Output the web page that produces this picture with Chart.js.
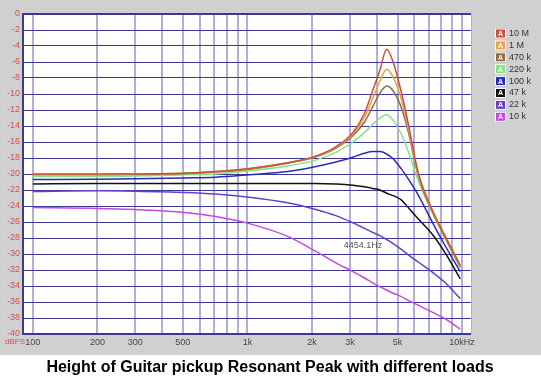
<!DOCTYPE html>
<html>
<head>
<meta charset="utf-8">
<script src="https://cdn.jsdelivr.net/npm/chart.js@4.4.1/dist/chart.umd.min.js"></script>
<style>
  html, body { margin: 0; padding: 0; background: #fff; }
  #wrap { width: 541px; height: 384px; }
</style>
</head>
<body>
<div id="wrap"><canvas id="peakChart" width="541" height="384"></canvas></div>
<script>
const freqs = [100, 200, 300, 510, 710, 1020, 1540, 2060, 2580, 3100, 3510, 3830, 4140, 4450, 4770, 5190, 5610, 6240, 7290, 8350, 9800];

// level in dBFS for each load
const load10M  = [-20.0, -20.0, -20.0, -19.9, -19.7, -19.3, -18.6, -17.8, -16.6, -14.8, -12.4, -9.6, -7.0, -4.4, -6.0, -9.6, -13.7, -19.8, -24.6, -27.8, -31.4];
const load1M   = [-20.05, -20.05, -20.0, -19.9, -19.7, -19.35, -18.6, -17.85, -16.7, -15.0, -12.9, -10.6, -8.4, -6.9, -7.9, -10.5, -14.3, -20.0, -24.7, -27.9, -31.5];
const load470k = [-20.1, -20.1, -20.05, -19.95, -19.75, -19.4, -18.65, -17.9, -16.8, -15.2, -13.5, -11.6, -9.9, -9.0, -9.6, -11.6, -14.7, -20.2, -24.8, -28.0, -31.6];
const load220k = [-20.3, -20.3, -20.25, -20.1, -20.0, -19.6, -19.0, -18.3, -17.3, -16.0, -14.8, -13.8, -13.0, -12.6, -13.3, -14.9, -17.2, -20.8, -24.9, -28.1, -31.7];
const load100k = [-20.7, -20.65, -20.6, -20.5, -20.4, -20.1, -19.7, -19.1, -18.5, -17.9, -17.4, -17.2, -17.2, -17.5, -18.1, -19.3, -20.6, -22.6, -26.1, -29.0, -32.2];
const load47k  = [-21.25, -21.2, -21.2, -21.2, -21.2, -21.2, -21.2, -21.2, -21.25, -21.4, -21.6, -21.8, -22.0, -22.4, -22.7, -23.2, -24.2, -25.6, -27.6, -29.9, -33.1];
const load22k  = [-22.2, -22.1, -22.15, -22.3, -22.5, -22.9, -23.6, -24.4, -25.2, -26.1, -26.8, -27.3, -27.7, -28.2, -28.7, -29.4, -30.1, -31.0, -32.3, -33.6, -35.6];
const load10k  = [-24.2, -24.3, -24.45, -24.8, -25.3, -26.2, -27.8, -29.6, -31.1, -32.2, -33.0, -33.6, -34.1, -34.5, -34.9, -35.3, -35.8, -36.4, -37.3, -38.1, -39.4];

const seriesNames = ['10 M', '1 M', '470 k', '220 k', '100 k', '47 k', '22 k', '10 k'];
const seriesValues = [load10M, load1M, load470k, load220k, load100k, load47k, load22k, load10k];
const seriesColors = ['#c9503a', '#e8a24e', '#8c6c42', '#86e286', '#2a2ab8', '#111111', '#6a3cd0', '#c24ae0'];

const gridTicks = [100, 200, 300, 400, 500, 600, 700, 800, 900, 1000, 2000, 3000, 4000, 5000, 6000, 7000, 8000, 9000, 10000];
const tickLabels = {100: '100', 200: '200', 300: '300', 500: '500', 1000: '1k', 2000: '2k', 3000: '3k', 5000: '5k', 10000: '10kHz'};
const peakLabel = '4454.1Hz';
const titleText = 'Height of Guitar pickup Resonant Peak with different loads';

const datasets = seriesNames.map((name, i) => ({
    label: name,
    data: freqs.map((f, j) => ({ x: f, y: seriesValues[i][j] })),
    borderColor: seriesColors[i],
    backgroundColor: seriesColors[i],
    borderWidth: 1.5,
    pointRadius: 0,
    cubicInterpolationMode: 'monotone',
    fill: false
}));

// gray panel behind the plot, white strip under it for the caption
const panelPlugin = {
    id: 'panel',
    beforeDraw(chart) {
        const c = chart.ctx;
        c.save();
        c.fillStyle = '#ffffff';
        c.fillRect(0, 0, chart.width, chart.height);
        c.fillStyle = '#d0d0d0';
        c.fillRect(0, 0, chart.width, 355);
        const a = chart.chartArea;
        c.fillStyle = '#ffffff';
        c.fillRect(a.left, a.top, a.right - a.left, a.bottom - a.top);
        c.restore();
    },
    beforeDatasetsDraw(chart) {
        const c = chart.ctx;
        const a = chart.chartArea;
        c.save();
        c.strokeStyle = '#b0b0d0';
        c.lineWidth = 1;
        c.beginPath();
        c.moveTo(a.right + 0.5, a.top);
        c.lineTo(a.right + 0.5, a.bottom);
        c.stroke();
        c.strokeStyle = '#3a3a96';
        c.lineWidth = 2;
        c.beginPath();
        c.moveTo(a.right, a.top);
        c.lineTo(a.left, a.top);
        c.lineTo(a.left, a.bottom);
        c.lineTo(a.right, a.bottom);
        c.stroke();
        c.restore();
    },
    afterDraw(chart) {
        const c = chart.ctx;
        c.save();
        // unit label
        c.font = '8px "Liberation Sans", Arial, sans-serif';
        c.fillStyle = '#d05050';
        c.textAlign = 'left';
        c.textBaseline = 'middle';
        c.fillText('dBFS', 5, 342);
        // marker text
        c.font = '9px "Liberation Sans", Arial, sans-serif';
        c.fillStyle = '#555555';
        c.textAlign = 'center';
        c.fillText(peakLabel, chart.scales.x.getPixelForValue(3450), chart.scales.y.getPixelForValue(-29));
        // legend
        seriesNames.forEach((name, i) => {
            const y = 33.5 + i * 11.9;
            c.fillStyle = seriesColors[i];
            c.fillRect(495, y - 5, 11, 10);
            c.strokeStyle = '#ffffff';
            c.lineWidth = 1;
            c.strokeRect(495.5, y - 4.5, 10, 9);
            c.fillStyle = '#ffffff';
            c.font = 'bold 7px "Liberation Sans", Arial, sans-serif';
            c.textAlign = 'center';
            c.fillText('A', 500.5, y + 0.5);
            c.fillStyle = '#333333';
            c.font = '9px "Liberation Sans", Arial, sans-serif';
            c.textAlign = 'left';
            c.fillText(name, 509, y);
        });
        // caption
        c.fillStyle = '#000000';
        c.font = 'bold 16px "Liberation Sans", Arial, sans-serif';
        c.textAlign = 'center';
        c.fillText(titleText, 270, 368);
        c.restore();
    }
};

new Chart(document.getElementById('peakChart'), {
    type: 'line',
    data: { datasets: datasets },
    options: {
        responsive: false,
        animation: false,
        layout: { padding: { top: 14, right: 70, left: 0, bottom: 29 } },
        plugins: {
            legend: { display: false },
            tooltip: { enabled: false },
            title: { display: false }
        },
        scales: {
            x: {
                type: 'logarithmic',
                min: 90,
                max: 11000,
                afterBuildTicks: (scale) => { scale.ticks = gridTicks.map(v => ({ value: v })); },
                afterFit: (scale) => { scale.height = 21; },
                ticks: {
                    autoSkip: false,
                    maxRotation: 0,
                    padding: 3,
                    color: '#444444',
                    font: { family: '"Liberation Sans", Arial, sans-serif', size: 9 },
                    callback: (v) => tickLabels[v] || ''
                },
                grid: { color: '#b0b0d0', lineWidth: 2, drawTicks: false },
                border: { display: false }
            },
            y: {
                min: -40,
                max: 0,
                afterFit: (scale) => { scale.width = 23; },
                ticks: {
                    stepSize: 2,
                    padding: 3,
                    color: '#d05050',
                    font: { family: '"Liberation Sans", Arial, sans-serif', size: 9 }
                },
                grid: { color: '#3a3a96', lineWidth: 1, drawTicks: false },
                border: { display: false }
            }
        }
    },
    plugins: [panelPlugin]
});
</script>
</body>
</html>
